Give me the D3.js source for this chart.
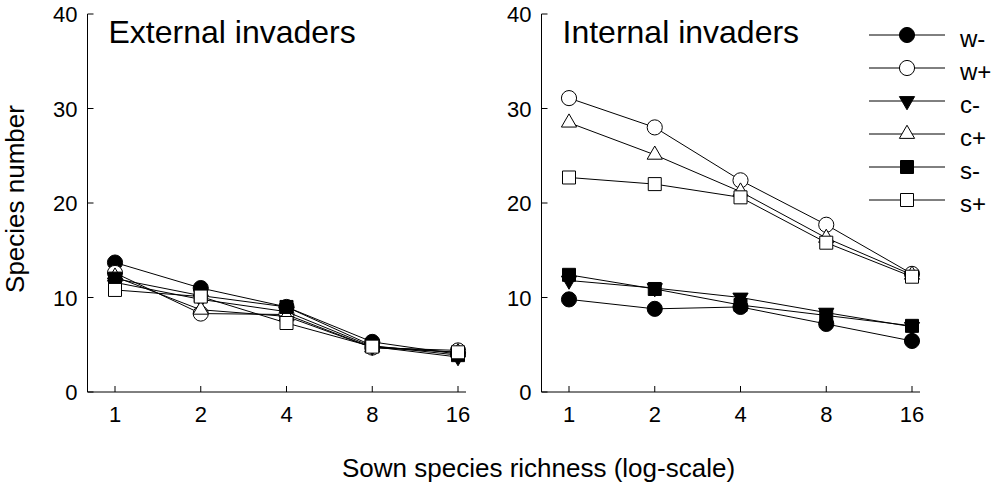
<!DOCTYPE html>
<html lang="en">
<head>
    <meta charset="UTF-8">
    <title>Invaders vs sown species richness</title>
    <script src="https://d3js.org/d3.v7.min.js"></script>
    <style>
        body {
            margin: 0;
            padding: 0;
            background: white;
            font-family: "Liberation Sans", Arial, sans-serif;
        }
        text {
            fill: black;
        }
        .tick-label {
            font-size: 22px;
        }
    </style>
</head>
<body>
    <svg id="chart" width="994" height="485"></svg>

    <script>
        // Sown richness levels (x axis, log scale)
        const richness = [1, 2, 4, 8, 16];
        const yTicks = [0, 10, 20, 30, 40];

        // Treatments, in drawing order
        const treatments = ["w-", "w+", "c-", "c+", "s-", "s+"];

        // External invaders, one array per treatment
        const extWminus = [13.7, 11.0, 9.0, 5.3, 4.0];
        const extWplus  = [12.6, 8.3, 8.2, 4.7, 4.4];
        const extCminus = [11.6, 9.8, 8.5, 4.8, 3.7];
        const extCplus  = [12.2, 8.7, 8.0, 4.7, 4.2];
        const extSminus = [12.0, 10.2, 9.0, 4.9, 3.9];
        const extSplus  = [10.8, 10.1, 7.3, 4.8, 4.2];

        // Internal invaders
        const intWminus = [9.8, 8.8, 9.0, 7.2, 5.4];
        const intWplus  = [31.1, 28.0, 22.4, 17.7, 12.5];
        const intCminus = [11.8, 11.0, 10.0, 8.4, 6.9];
        const intCplus  = [28.5, 25.1, 21.2, 16.3, 12.4];
        const intSminus = [12.4, 10.9, 9.2, 8.1, 7.0];
        const intSplus  = [22.7, 22.0, 20.6, 15.8, 12.2];

        const panels = [
            { title: "External invaders", left: 87.5, series: [extWminus, extWplus, extCminus, extCplus, extSminus, extSplus] },
            { title: "Internal invaders", left: 541.5, series: [intWminus, intWplus, intCminus, intCplus, intSminus, intSplus] }
        ];

        // Marker style per treatment
        const markers = {
            "w-": { type: d3.symbolCircle, size: 180, fill: "black", rot: 0 },
            "w+": { type: d3.symbolCircle, size: 180, fill: "white", rot: 0 },
            "c-": { type: d3.symbolTriangle, size: 100, fill: "black", rot: 180 },
            "c+": { type: d3.symbolTriangle, size: 100, fill: "white", rot: 0 },
            "s-": { type: d3.symbolSquare, size: 169, fill: "black", rot: 0 },
            "s+": { type: d3.symbolSquare, size: 169, fill: "white", rot: 0 }
        };

        const svg = d3.select("#chart");
        const panelWidth = 378.5;
        const plotTop = 14, plotBottom = 392;

        const y = d3.scaleLinear().domain([0, 40]).range([plotBottom, plotTop]);

        function drawMarker(g, key, cx, cy) {
            const m = markers[key];
            g.append("path")
             .attr("d", d3.symbol().type(m.type).size(m.size)())
             .attr("transform", `translate(${cx},${cy}) rotate(${m.rot})`)
             .attr("fill", m.fill)
             .attr("stroke", "black")
             .attr("stroke-width", 1);
        }

        panels.forEach(p => {
            const x = d3.scaleLog().base(2).domain([1, 16])
                        .range([p.left + 27.5, p.left + panelWidth - 8]);

            const g = svg.append("g");

            // Axis lines
            g.append("line")
             .attr("x1", p.left).attr("y1", plotTop)
             .attr("x2", p.left).attr("y2", plotBottom)
             .attr("stroke", "black");
            g.append("line")
             .attr("x1", p.left).attr("y1", plotBottom)
             .attr("x2", p.left + panelWidth).attr("y2", plotBottom)
             .attr("stroke", "black");

            // y ticks (pointing inward) and labels
            yTicks.forEach(t => {
                g.append("line")
                 .attr("x1", p.left).attr("x2", p.left + 6)
                 .attr("y1", y(t)).attr("y2", y(t))
                 .attr("stroke", "black");
                g.append("text")
                 .attr("class", "tick-label")
                 .attr("x", p.left - 10)
                 .attr("y", y(t) + 8)
                 .attr("text-anchor", "end")
                 .text(t);
            });

            // x ticks and labels
            richness.forEach(r => {
                g.append("line")
                 .attr("x1", x(r)).attr("x2", x(r))
                 .attr("y1", plotBottom).attr("y2", plotBottom - 6)
                 .attr("stroke", "black");
                g.append("text")
                 .attr("class", "tick-label")
                 .attr("x", x(r))
                 .attr("y", 422)
                 .attr("text-anchor", "middle")
                 .text(r);
            });

            // Panel title
            g.append("text")
             .attr("x", p.left + 21)
             .attr("y", 43)
             .style("font-size", "32px")
             .text(p.title);

            // Lines then markers, series by series
            const line = d3.line()
                           .x((d, i) => x(richness[i]))
                           .y(d => y(d));

            p.series.forEach((vals, k) => {
                g.append("path")
                 .attr("d", line(vals))
                 .attr("fill", "none")
                 .attr("stroke", "black")
                 .attr("stroke-width", 1);
                vals.forEach((v, i) => drawMarker(g, treatments[k], x(richness[i]), y(v)));
            });
        });

        // Legend
        const legend = svg.append("g");
        treatments.forEach((t, i) => {
            const ly = 35 + i * 33;
            legend.append("line")
                  .attr("x1", 869).attr("x2", 945)
                  .attr("y1", ly).attr("y2", ly)
                  .attr("stroke", "black");
            drawMarker(legend, t, 907, ly);
            legend.append("text")
                  .attr("x", 960)
                  .attr("y", ly + 12)
                  .style("font-size", "24px")
                  .text(t);
        });

        // Axis titles
        svg.append("text")
           .attr("transform", "translate(24,199) rotate(-90)")
           .attr("text-anchor", "middle")
           .style("font-size", "26px")
           .text("Species number");

        svg.append("text")
           .attr("x", 342)
           .attr("y", 477)
           .style("font-size", "26px")
           .text("Sown species richness (log-scale)");
    </script>
</body>
</html>
